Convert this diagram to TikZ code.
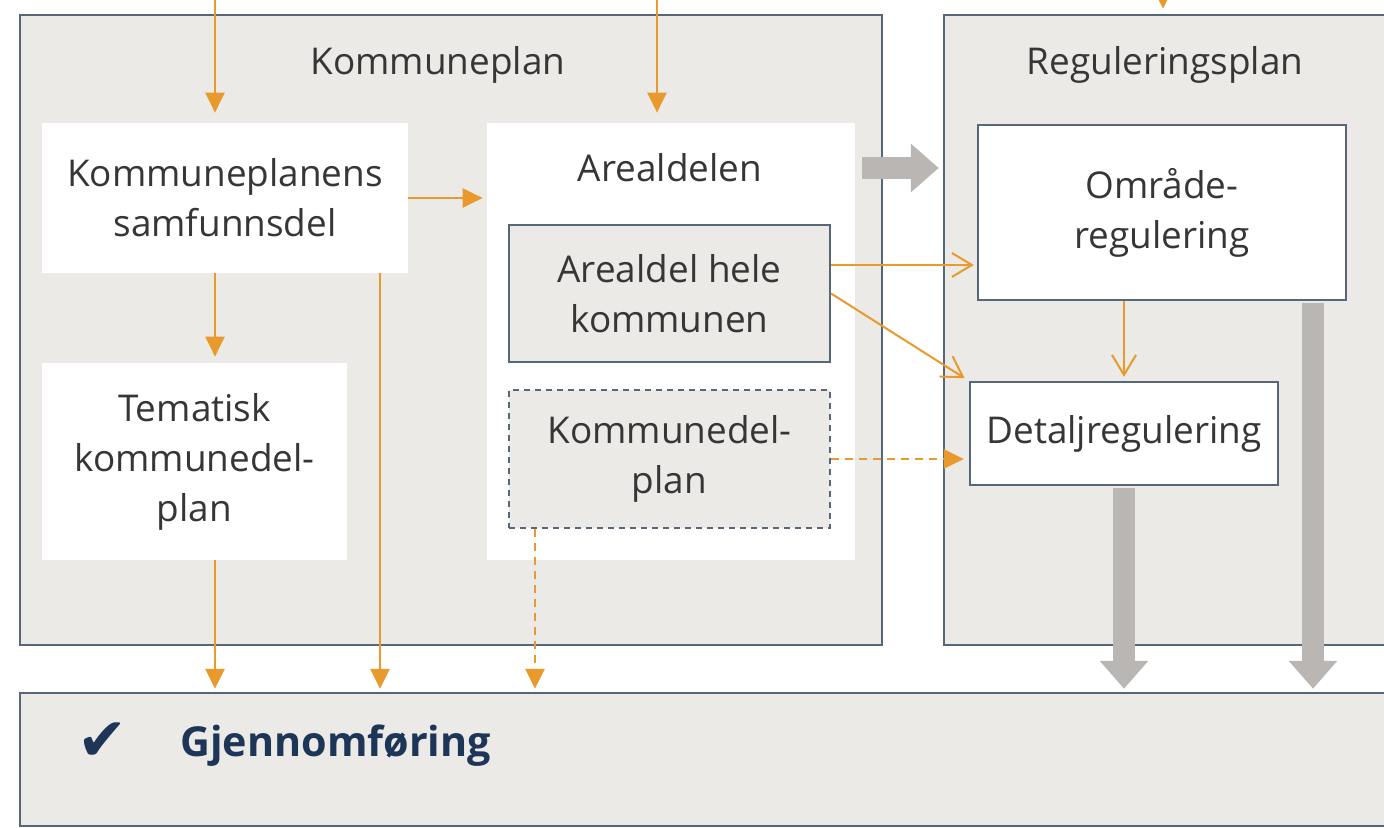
\documentclass[tikz,border=0pt]{standalone}
\usepackage{fontspec}
\setmainfont{Open Sans}
\newfontfamily\symfont{DejaVu Sans}
\usetikzlibrary{arrows.meta}
\definecolor{boxgray}{HTML}{ECEAE7}
\definecolor{framecol}{HTML}{56677A}
\definecolor{orangecol}{HTML}{E99A2C}
\definecolor{arrowgray}{HTML}{BAB6B3}
\definecolor{textcol}{HTML}{363636}
\definecolor{navy}{HTML}{1D3557}

\begin{document}
\begin{tikzpicture}[x=0.2mm,y=-0.2mm,
    every node/.style={font=\fontsize{21}{28.5}\selectfont, text=textcol, align=center, inner sep=0pt},
    frame/.style={draw=framecol, line width=0.5mm, fill=boxgray},
    whitebox/.style={fill=white},
    innerbox/.style={draw=framecol, line width=0.45mm},
    oarrow/.style={draw=orangecol, line width=0.55mm, -{Triangle[width=3.8mm,length=4mm]}},
    barb/.style={draw=orangecol, line width=0.4mm, -{Straight Barb[width=4.8mm,length=4mm]}},
    bigarrow/.style={draw=arrowgray, line width=4.4mm, -{Triangle[width=9.4mm,length=5.6mm]}}]
    \useasboundingbox (0,0) rectangle (1384,828);
    \node[frame, minimum width=172.4mm, minimum height=126mm] (kplan) at (451,330) {};
    \node (kplantitle) at (438,65) {Kommuneplan};
    \node[frame, minimum width=90.2mm, minimum height=126mm] (rplan) at (1169.5,330) {};
    \node (rplantitle) at (1165,65) {Reguleringsplan};
    \node[frame, minimum width=275mm, minimum height=26.6mm] (gjen) at (707.5,759.5) {};
    \node[text=navy, font=\fontsize{23.5}{28}\selectfont\bfseries, anchor=west] (gjentext) at (180,746) {Gjennomføring};
    \node[text=navy, font=\symfont\fontsize{34}{36}\selectfont] (check) at (103,742) {✔};
    \node[whitebox, minimum width=73.2mm, minimum height=30mm] (samf) at (225,198) {Kommuneplanens\\samfunnsdel};
    \node[whitebox, minimum width=73.6mm, minimum height=87.4mm] (areal) at (671,341.5) {};
    \node (arealtitle) at (670,168) {Arealdelen};
    \node[innerbox, fill=boxgray, minimum width=64.2mm, minimum height=27.4mm] (hele) at (669.5,293.5) {Arealdel hele\\kommunen};
    \node[innerbox, dash pattern=on 1.2mm off 1mm, fill=boxgray, minimum width=64.2mm, minimum height=27.6mm] (kdp) at (669.5,459) {Kommunedel-\\plan};
    \node[whitebox, minimum width=61mm, minimum height=39.4mm] (tema) at (194.5,461.5) {Tematisk\\kommunedel-\\plan};
    \node[innerbox, fill=white, minimum width=73.6mm, minimum height=35mm] (omr) at (1162,212.5) {Område-\\regulering};
    \node[innerbox, fill=white, minimum width=61.6mm, minimum height=20.6mm] (detalj) at (1124,433.5) {Detaljregulering};
    \coordinate (top1) at (215,-5);
    \coordinate (top2) at (657,-5);
    \coordinate (top3) at (1163,-20);
    \coordinate (c380) at (380,0);
    \coordinate (c535) at (535,0);
    \coordinate (c1313) at (1313,0);
    \coordinate (r1) at (0,265);
    \draw[oarrow, shorten >=2mm] (top1) -- (top1 |- samf.north);
    \draw[oarrow, shorten >=2mm] (top2) -- (top2 |- areal.north);
    \draw[oarrow, shorten >=1mm] (top3) -- (top3 |- rplan.north);
    \draw[oarrow, shorten >=0.8mm] (samf.east) -- (areal.west |- samf.east);
    \draw[oarrow, shorten >=1.2mm] (samf.south -| top1) -- (tema.north -| top1);
    \draw[oarrow, shorten >=0.6mm] (samf.south -| c380) -- (gjen.north -| c380);
    \draw[oarrow, shorten >=0.6mm] (tema.south -| top1) -- (gjen.north -| top1);
    \draw[oarrow, dash pattern=on 1.6mm off 1.2mm, shorten >=0.6mm] (kdp.south -| c535) -- (gjen.north -| c535);
    \draw[oarrow, dash pattern=on 1.6mm off 1.2mm, shorten >=1mm] (kdp.east) -- (detalj.west |- kdp.east);
    \draw[barb, shorten >=0.6mm] (hele.east |- r1) -- (omr.west |- r1);
    \draw[barb, shorten >=1mm] (hele.east) -- (detalj.north west);
    \draw[barb, shorten >=0.8mm] (omr.south -| detalj.north) -- (detalj.north);
    \draw[bigarrow, shorten <=1.4mm, shorten >=0.8mm] (areal.east |- arealtitle) -- (rplan.west |- arealtitle);
    \draw[bigarrow, shorten <=0.4mm, shorten >=0.6mm] (detalj.south) -- (gjen.north -| detalj.south);
    \draw[bigarrow, shorten <=0.4mm, shorten >=0.6mm] (omr.south -| c1313) -- (gjen.north -| c1313);
\end{tikzpicture}
\end{document}
